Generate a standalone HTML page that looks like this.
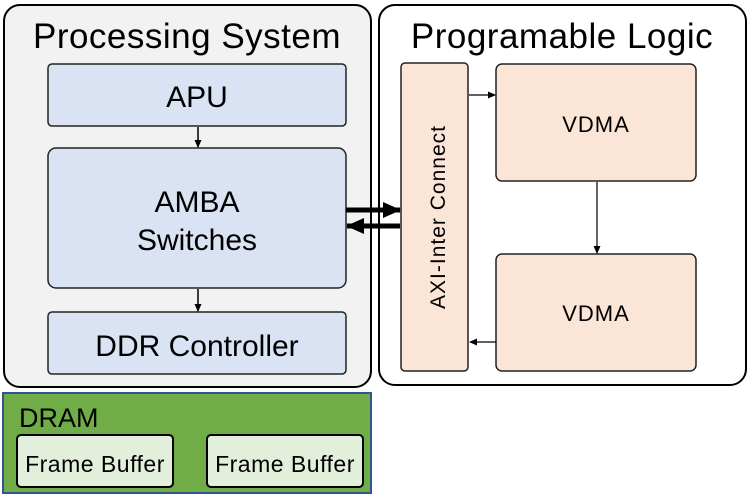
<!DOCTYPE html>
<html><head><meta charset="utf-8"><style>
html,body{margin:0;padding:0;background:#fff;}
svg{display:block;font-family:"Liberation Sans","Noto Sans CJK KR",sans-serif;}
</style></head><body>
<svg width="747" height="494" viewBox="0 0 747 494" xmlns="http://www.w3.org/2000/svg">
<defs>
<marker id="a" markerWidth="8" markerHeight="8" refX="7" refY="4" orient="auto" markerUnits="userSpaceOnUse"><path d="M0,0.5 L8,4 L0,7.5 z" fill="#000"/></marker>
<marker id="b" markerWidth="18" markerHeight="16" refX="17" refY="8" orient="auto" markerUnits="userSpaceOnUse"><path d="M0,0 L18,8 L0,16 z" fill="#000"/></marker>
</defs>
<rect x="4" y="5" width="367" height="382" rx="16" fill="#f2f2f2" stroke="#000" stroke-width="2"/>
<rect x="379" y="5" width="367" height="380" rx="16" fill="#fff" stroke="#000" stroke-width="2"/>
<text x="187" y="48" font-size="35" text-anchor="middle" fill="#000" letter-spacing="0.5">Processing System</text>
<text x="562" y="48" font-size="35" text-anchor="middle" fill="#000" letter-spacing="0.5">Programable Logic</text>
<rect x="48" y="64" width="298" height="62" rx="4" fill="#dae3f3" stroke="#222" stroke-width="1.5"/>
<text x="197" y="107" font-size="30" text-anchor="middle">APU</text>
<rect x="48" y="148" width="298" height="140" rx="8" fill="#dae3f3" stroke="#222" stroke-width="1.5"/>
<text x="197" y="212" font-size="30" text-anchor="middle">AMBA</text>
<text x="197" y="250" font-size="30" text-anchor="middle">Switches</text>
<rect x="48" y="312" width="298" height="62" rx="4" fill="#dae3f3" stroke="#222" stroke-width="1.5"/>
<text x="197" y="356" font-size="30" text-anchor="middle">DDR Controller</text>
<line x1="198" y1="127" x2="198" y2="147" stroke="#000" stroke-width="1.5" marker-end="url(#a)"/>
<line x1="198" y1="289" x2="198" y2="311" stroke="#000" stroke-width="1.5" marker-end="url(#a)"/>
<line x1="346" y1="210" x2="400" y2="210" stroke="#000" stroke-width="5" marker-end="url(#b)"/>
<line x1="400" y1="226" x2="347" y2="226" stroke="#000" stroke-width="5" marker-end="url(#b)"/>
<rect x="401" y="63" width="67" height="308" rx="4" fill="#fbe5d6" stroke="#222" stroke-width="1.5"/>
<text transform="translate(445,217) rotate(-90)" font-size="21" text-anchor="middle" letter-spacing="1">AXI-Inter Connect</text>
<rect x="496" y="64" width="200" height="117" rx="6" fill="#fbe5d6" stroke="#222" stroke-width="1.5"/>
<text x="596" y="132" font-size="22" text-anchor="middle" letter-spacing="1">VDMA</text>
<rect x="496" y="254" width="200" height="117" rx="6" fill="#fbe5d6" stroke="#222" stroke-width="1.5"/>
<text x="596" y="321" font-size="22" text-anchor="middle" letter-spacing="1">VDMA</text>
<line x1="469" y1="95" x2="495" y2="95" stroke="#000" stroke-width="1.2" marker-end="url(#a)"/>
<line x1="597" y1="182" x2="597" y2="253" stroke="#000" stroke-width="1.2" marker-end="url(#a)"/>
<line x1="496" y1="342" x2="470" y2="342" stroke="#000" stroke-width="1.2" marker-end="url(#a)"/>
<rect x="3" y="393" width="368" height="100" fill="#70ad47" stroke="#2f5597" stroke-width="2"/>
<text x="19" y="427" font-size="27">DRAM</text>
<rect x="17" y="435" width="156" height="52" rx="4" fill="#e2efda" stroke="#000" stroke-width="2"/>
<text x="95" y="472" font-size="23" text-anchor="middle" letter-spacing="0.5">Frame Buffer</text>
<rect x="207" y="435" width="156" height="52" rx="4" fill="#e2efda" stroke="#000" stroke-width="2"/>
<text x="285" y="472" font-size="23" text-anchor="middle" letter-spacing="0.5">Frame Buffer</text>
</svg>
</body></html>
